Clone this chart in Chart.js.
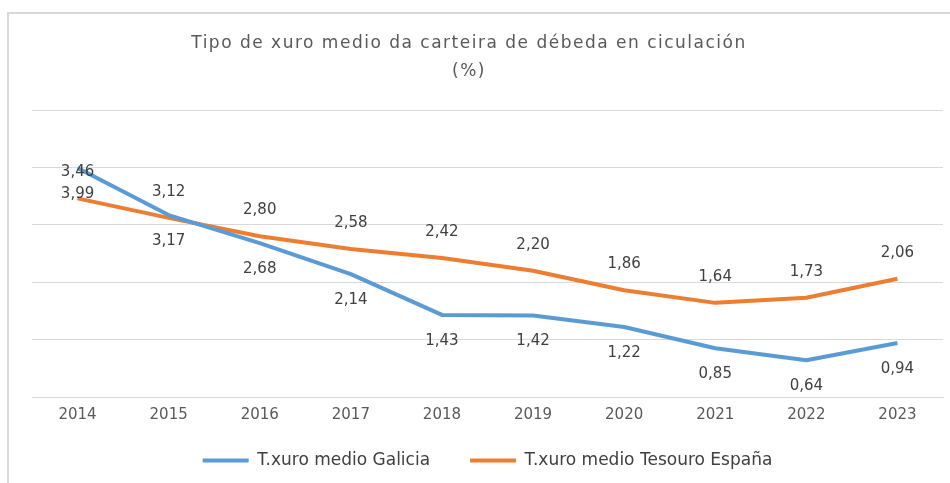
<!DOCTYPE html>
<html>
<head>
<meta charset="utf-8">
<script src="https://cdn.jsdelivr.net/npm/chart.js@4"></script>
<style>
  body { margin: 0; background: #fff; }
  #box {
    position: absolute; left: 7px; top: 12px; width: 943px; height: 471px;
    border-left: 2px solid #d9d9d9; border-top: 2px solid #d9d9d9;
  }
  #box canvas { display: block; }
</style>
</head>
<body>
<div id="box"><canvas id="chart" width="941" height="469"></canvas></div>
<script>
const years = ['2014', '2015', '2016', '2017', '2018', '2019', '2020', '2021', '2022', '2023'];
const galicia = [3.99, 3.17, 2.68, 2.14, 1.43, 1.42, 1.22, 0.85, 0.64, 0.94];
const tesouro = [3.46, 3.12, 2.80, 2.58, 2.42, 2.20, 1.86, 1.64, 1.73, 2.06];
const titleLines = ['Tipo de xuro medio da carteira de débeda en ciculación', '(%)'];

const font = "'DejaVu Sans', sans-serif";

// título con espazado entre letras, como no Excel
const spacedTitle = {
    id: 'spacedTitle',
    afterDraw(chart) {
        const ctx = chart.ctx;
        ctx.save();
        ctx.font = '17px ' + font;
        ctx.letterSpacing = '1.5px';
        ctx.fillStyle = '#595959';
        ctx.textAlign = 'center';
        ctx.textBaseline = 'middle';
        titleLines.forEach((t, i) => ctx.fillText(t, 460, 30 + i * 28));
        ctx.restore();
    }
};

// etiquetas de valor: Galicia debaixo, Tesouro enriba
const valueLabels = {
    id: 'valueLabels',
    afterDatasetsDraw(chart) {
        const ctx = chart.ctx;
        ctx.save();
        ctx.font = '15px ' + font;
        ctx.fillStyle = '#404040';
        ctx.textAlign = 'center';
        ctx.textBaseline = 'middle';
        chart.data.datasets.forEach((ds, di) => {
            const meta = chart.getDatasetMeta(di);
            const off = ds.labelPos === 'below' ? 26 : -26;
            meta.data.forEach((pt, i) => {
                ctx.fillText(ds.data[i].toFixed(2).replace('.', ','), pt.x, pt.y + off);
            });
        });
        ctx.restore();
    }
};

// a lenda sobe un pouco (o padding grande é só para separar os elementos)
const legendShift = {
    id: 'legendShift',
    afterLayout(chart) {
        chart.legend.top -= 13;
    }
};

new Chart(document.getElementById('chart'), {
    type: 'line',
    data: {
        labels: years,
        datasets: [
            { label: 'T.xuro medio Galicia', data: galicia, borderColor: '#5b9bd5', backgroundColor: '#5b9bd5',
              borderWidth: 4, borderJoinStyle: 'round', pointRadius: 0, tension: 0, labelPos: 'below' },
            { label: 'T.xuro medio Tesouro España', data: tesouro, borderColor: '#ed7d31', backgroundColor: '#ed7d31',
              borderWidth: 4, borderJoinStyle: 'round', pointRadius: 0, tension: 0, labelPos: 'above' }
        ]
    },
    options: {
        responsive: false,
        animation: false,
        layout: { padding: { left: 23, right: 7, top: 96, bottom: 3 } },
        plugins: {
            title: { display: false },
            legend: {
                position: 'bottom',
                maxHeight: 55,
                labels: {
                    color: '#404040', font: { family: font, size: 17 },
                    usePointStyle: true, pointStyle: 'line', pointStyleWidth: 46, boxHeight: 6,
                    padding: 40
                }
            },
            tooltip: { enabled: false }
        },
        scales: {
            x: {
                offset: true,
                grid: { display: false },
                border: { color: '#d9d9d9', width: 1 },
                ticks: { color: '#595959', font: { family: font, size: 15 }, padding: 1 }
            },
            y: {
                min: 0, max: 5,
                ticks: { display: false, stepSize: 1 },
                grid: { color: '#d9d9d9', drawTicks: false },
                border: { display: false }
            }
        }
    },
    plugins: [valueLabels, spacedTitle, legendShift]
});
</script>
</body>
</html>
